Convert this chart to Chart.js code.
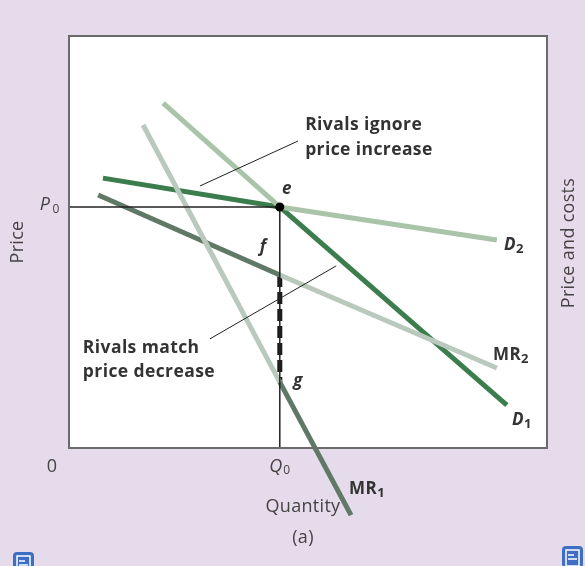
<!DOCTYPE html>
<html>
<head>
<meta charset="utf-8">
<script src="https://cdn.jsdelivr.net/npm/chart.js@4"></script>
<style>
  html, body { margin: 0; padding: 0; background: #e6dbea; }
  #wrap { width: 585px; height: 566px; }
</style>
</head>
<body>
<div id="wrap"><canvas id="chart"></canvas></div>
<script>
// Kinked demand: price/quantity in arbitrary units (0..100)
const Q0 = 44.1;
const P0 = 58.5;

// Curves, split at Q0 into the part that is used and the part that is not
const d1Upper  = [{ x: 19.7, y: 83.7 }, { x: Q0, y: P0 }];
const d1Lower  = [{ x: Q0, y: P0 }, { x: 91.6, y: 10.4 }];
const d2Upper  = [{ x: 7.1, y: 65.5 }, { x: Q0, y: P0 }];
const d2Lower  = [{ x: Q0, y: P0 }, { x: 89.5, y: 50.5 }];
const mr1Upper = [{ x: 15.5, y: 78.4 }, { x: Q0, y: 16.0 }];
const mr1Lower = [{ x: Q0, y: 16.0 }, { x: 59.0, y: -16.3 }];
const mr2Upper = [{ x: 6.1, y: 61.4 }, { x: Q0, y: 42.0 }];
const mr2Lower = [{ x: Q0, y: 42.0 }, { x: 89.5, y: 19.4 }];

// Guides
const priceGuide = [{ x: 0, y: P0 }, { x: Q0, y: P0 }];
const qtyGuide   = [{ x: Q0, y: P0 }, { x: Q0, y: 0 }];
const gap        = [{ x: Q0, y: 42.0 }, { x: Q0, y: 16.0 }];
const ignoreLead = [{ x: 27.4, y: 63.6 }, { x: 47.9, y: 74.5 }];
const matchLead  = [{ x: 29.5, y: 26.5 }, { x: 55.9, y: 44.2 }];

const LIGHT_D  = '#a9c4a9';
const DARK_D   = '#3b7d4c';
const LIGHT_MR = '#b9c9bd';
const DARK_MR  = '#5f7966';
const TEXT     = '#333333';

function seg(data, color, width, extra) {
  return Object.assign({
    data, borderColor: color, borderWidth: width, pointRadius: 0,
    showLine: true, fill: false, clip: false, borderCapStyle: 'butt'
  }, extra || {});
}

const NOTE = '700 17.5px "Open Sans"';
const CURVE = '700 17px "Open Sans"';
const CURVE_I = 'italic 700 17px "Open Sans"';
const SUB = '700 13px "Open Sans"';
const PT = 'italic 700 17px "Open Sans"';

// Text labels: [text, subscript, x, y, font, align]
const labels = [
  ['Rivals ignore',  '', 49.4, 78.4, NOTE, 'left'],
  ['price increase', '', 49.4, 72.3, NOTE, 'left'],
  ['Rivals match',   '', 2.9, 24.3, NOTE, 'left'],
  ['price decrease', '', 2.9, 18.4, NOTE, 'left'],
  ['e',  '', 45.6, 62.8, PT, 'center'],
  ['f',  '', 40.6, 48.8, PT, 'center'],
  ['g',  '', 47.9, 16.3, PT, 'center'],
  ['D',  '2', 91.0, 49.2, CURVE_I, 'left'],
  ['MR', '2', 88.7, 22.6, CURVE, 'left'],
  ['D',  '1', 92.7, 6.7, CURVE_I, 'left'],
  ['MR', '1', 58.6, -10.0, CURVE, 'left']
];

const decor = {
  id: 'decor',
  beforeDraw(c) {
    const { ctx, chartArea: a } = c;
    ctx.save();
    ctx.fillStyle = '#e6dbea';
    ctx.fillRect(0, 0, c.width, c.height);
    ctx.fillStyle = '#ffffff';
    ctx.fillRect(a.left, a.top, a.right - a.left, a.bottom - a.top);
    ctx.restore();
  },
  afterDatasetsDraw(c) {
    const { ctx, chartArea: a, scales: { x, y } } = c;
    ctx.save();
    // frame
    ctx.strokeStyle = '#6b6b6b';
    ctx.lineWidth = 2;
    ctx.strokeRect(a.left, a.top, a.right - a.left, a.bottom - a.top);

    // point e
    ctx.fillStyle = '#000';
    ctx.beginPath();
    ctx.arc(x.getPixelForValue(Q0), y.getPixelForValue(P0), 4.5, 0, Math.PI * 2);
    ctx.fill();

    ctx.fillStyle = TEXT;
    ctx.textBaseline = 'middle';
    ctx.letterSpacing = '0.4px';
    labels.forEach(([t, sub, vx, vy, font, align]) => {
      ctx.font = font;
      ctx.textAlign = align;
      const px = x.getPixelForValue(vx), py = y.getPixelForValue(vy);
      ctx.fillText(t, px, py);
      if (sub) {
        const w = ctx.measureText(t).width;
        ctx.font = SUB;
        ctx.textAlign = 'left';
        ctx.fillText(sub, px + w, py + 4);
      }
    });

    // axis texts
    ctx.letterSpacing = '0.3px';
    ctx.font = '18px "Open Sans"';
    ctx.fillStyle = '#444';
    ctx.textAlign = 'center';
    ctx.fillText('0', 52, a.bottom + 19);
    const qx = x.getPixelForValue(Q0);
    ctx.font = 'italic 18px "Open Sans"';
    ctx.fillText('Q', qx - 4, a.bottom + 19);
    ctx.font = '12px "Open Sans"';
    ctx.fillText('0', qx + 7, a.bottom + 23);
    const py = y.getPixelForValue(P0);
    ctx.font = 'italic 18px "Open Sans"';
    ctx.fillText('P', 45, py - 2);
    ctx.font = '12px "Open Sans"';
    ctx.fillText('0', 56, py + 3);

    ctx.font = '18px "Open Sans"';
    ctx.fillText('Quantity', 303, 507);
    ctx.fillText('(a)', 303, 538);

    ctx.save();
    ctx.translate(18, 242);
    ctx.rotate(-Math.PI / 2);
    ctx.fillText('Price', 0, 0);
    ctx.restore();
    ctx.save();
    ctx.translate(569, 243);
    ctx.rotate(-Math.PI / 2);
    ctx.fillText('Price and costs', 0, 0);
    ctx.restore();
    ctx.letterSpacing = '0px';

    // little blue icons in the corners
    [[13, 552], [562, 546]].forEach(([ix, iy]) => {
      ctx.fillStyle = '#3f6fc4';
      ctx.beginPath();
      ctx.roundRect(ix, iy, 21, 22, 4);
      ctx.fill();
      ctx.strokeStyle = '#ffffff';
      ctx.lineWidth = 1.5;
      ctx.strokeRect(ix + 4, iy + 4, 13, 16);
      ctx.beginPath();
      ctx.moveTo(ix + 6, iy + 9);  ctx.lineTo(ix + 12, iy + 9);
      ctx.moveTo(ix + 6, iy + 13); ctx.lineTo(ix + 15, iy + 13);
      ctx.stroke();
    });
    ctx.restore();
  }
};

new Chart(document.getElementById('chart'), {
  type: 'scatter',
  data: {
    datasets: [
      seg(ignoreLead, '#222', 1),
      seg(matchLead, '#222', 1),
      seg(priceGuide, '#222', 1.5),
      seg(qtyGuide, '#222', 1.5),
      seg(d1Upper, LIGHT_D, 5),
      seg(d2Lower, LIGHT_D, 5),
      seg(mr1Upper, LIGHT_MR, 5),
      seg(mr2Lower, LIGHT_MR, 5),
      seg(mr2Upper, DARK_MR, 5),
      seg(mr1Lower, DARK_MR, 5),
      seg(d2Upper, DARK_D, 5),
      seg(d1Lower, DARK_D, 5),
      seg(gap, '#1a1a1a', 5, { borderDash: [12, 5] })
    ]
  },
  options: {
    responsive: true,
    maintainAspectRatio: false,
    animation: false,
    layout: { padding: { left: 69, right: 38, top: 36, bottom: 118 } },
    plugins: { legend: { display: false }, tooltip: { enabled: false } },
    scales: {
      x: { type: 'linear', min: 0, max: 100, display: false },
      y: { type: 'linear', min: 0, max: 100, display: false }
    }
  },
  plugins: [decor]
});
</script>
</body>
</html>
